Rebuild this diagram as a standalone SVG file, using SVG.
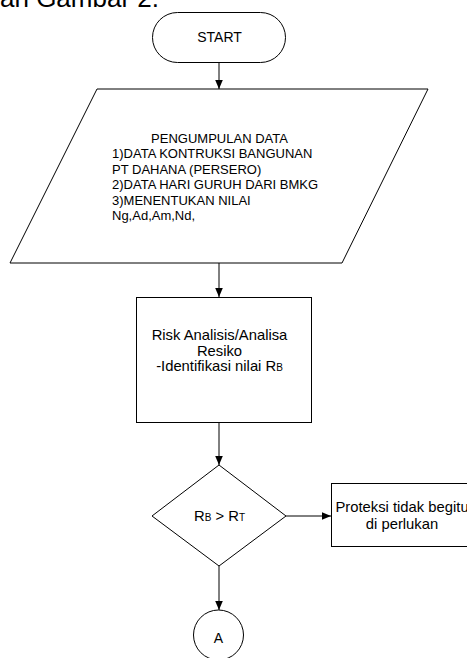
<svg xmlns="http://www.w3.org/2000/svg" width="467" height="658" viewBox="0 0 467 658">
<defs>
<marker id="ah" markerWidth="9.5" markerHeight="8" refX="9.5" refY="4" orient="auto" markerUnits="userSpaceOnUse">
<path d="M0,0 L9.5,4 L0,8 Z" fill="#000"/>
</marker>
<style>
.s{fill:#fff;stroke:#000;stroke-width:1}
.c{fill:none;stroke:#000;stroke-width:1}
text{font-family:"Liberation Sans",Arial,sans-serif;fill:#000}
.t13{font-size:13px}
.t15{font-size:14.8px}
.sub{font-size:10px}
</style>
</defs>
<rect width="467" height="658" fill="#fff"/>
<text x="0" y="7" style="font-size:26px">an Gambar 2.</text>
<g id="connectors">
<line class="c" x1="219" y1="63" x2="219" y2="89" marker-end="url(#ah)"/>
<line class="c" x1="219" y1="263" x2="219" y2="297" marker-end="url(#ah)"/>
<line class="c" x1="219" y1="422" x2="219" y2="465" marker-end="url(#ah)"/>
<line class="c" x1="286" y1="516" x2="331" y2="516" marker-end="url(#ah)"/>
<line class="c" x1="219" y1="566" x2="219" y2="610" marker-end="url(#ah)"/>
</g>
<g id="start">
<rect class="s" x="152.5" y="12.5" width="133" height="50" rx="25" ry="25"/>
<text x="219.5" y="42" text-anchor="middle" style="font-size:14px">START</text>
</g>
<g id="data">
<polygon class="s" points="97,89 428,89 342,263 10,263"/>
<text class="t13" x="219.5" y="142.5" text-anchor="middle">PENGUMPULAN DATA</text>
<text class="t13" x="112" y="158">1)DATA KONTRUKSI BANGUNAN</text>
<text class="t13" x="112" y="173.5">PT DAHANA (PERSERO)</text>
<text class="t13" x="112" y="189">2)DATA HARI GURUH DARI BMKG</text>
<text class="t13" x="112" y="204.5">3)MENENTUKAN NILAI</text>
<text class="t13" x="112" y="220">Ng,Ad,Am,Nd,</text>
</g>
<g id="risk">
<rect class="s" x="136.5" y="297.5" width="175" height="125"/>
<text class="t15" x="219.5" y="340" text-anchor="middle">Risk Analisis/Analisa</text>
<text class="t15" x="219.5" y="355.5" text-anchor="middle">Resiko</text>
<text class="t15" x="219.5" y="371" text-anchor="middle">-Identifikasi nilai R<tspan class="sub">B</tspan></text>
</g>
<g id="decision">
<polygon class="s" points="219,465 286,516 219,566 152,516"/>
<text class="t15" x="219.5" y="521" text-anchor="middle">R<tspan class="sub">B</tspan> &gt; R<tspan class="sub">T</tspan></text>
</g>
<g id="proteksi">
<rect class="s" x="331.5" y="483.5" width="142" height="63"/>
<text class="t15" x="402" y="512.3" text-anchor="middle">Proteksi tidak begitu</text>
<text class="t15" x="402" y="529" text-anchor="middle">di perlukan</text>
</g>
<g id="connectorA">
<circle class="s" cx="218.5" cy="635" r="25"/>
<text x="218.5" y="642.5" text-anchor="middle" style="font-size:14px">A</text>
</g>
</svg>
